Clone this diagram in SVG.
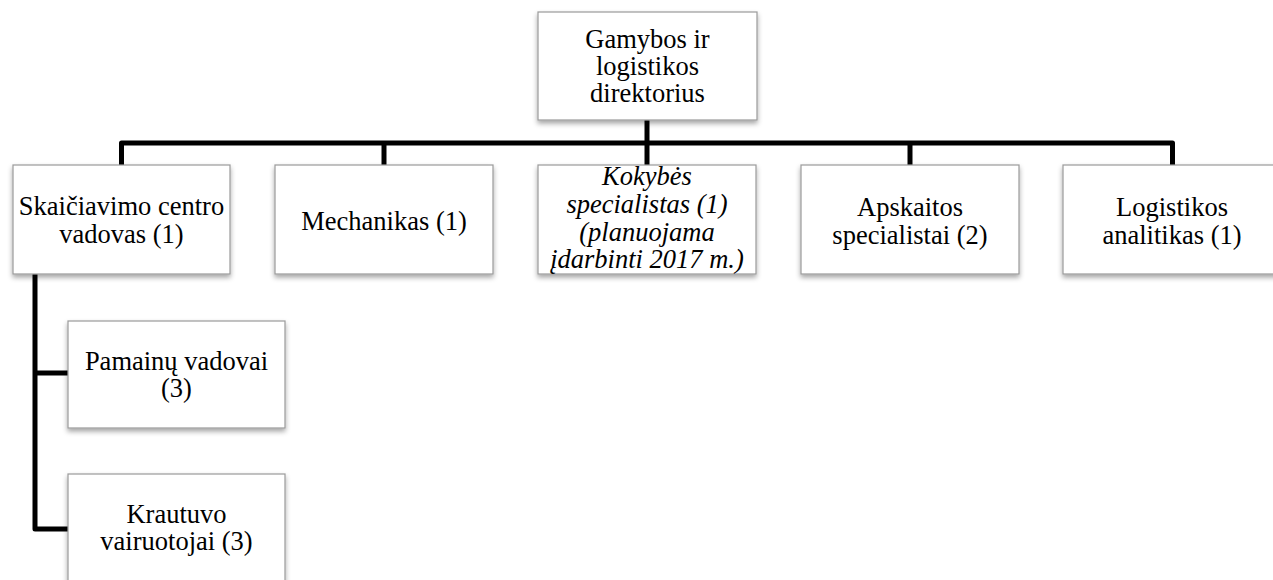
<svg xmlns="http://www.w3.org/2000/svg" width="1273" height="580" viewBox="0 0 1273 580">
<style>
.box{fill:#fff;stroke:#9a9a9a;stroke-width:1.2;filter:url(#sh)}
.t{font-family:"Liberation Serif","Times New Roman",serif;font-size:26.5px;fill:#000;text-anchor:middle}
.i{font-style:italic}
.c{fill:none;stroke:#000;stroke-width:5;stroke-linejoin:round;stroke-linecap:butt}
</style>
<defs>
<filter id="sh" x="-10%" y="-10%" width="130%" height="140%">
<feDropShadow dx="0" dy="3" stdDeviation="2.5" flood-color="#000" flood-opacity="0.35"/>
</filter>
</defs>
<rect width="1273" height="580" fill="#fff"/>
<g id="connectors">
<path class="c" d="M647 120 V143"/>
<path class="c" d="M121.5 165 V143 H1172.5 V165"/>
<path class="c" d="M384 143 V165"/>
<path class="c" d="M647 143 V165"/>
<path class="c" d="M910 143 V165"/>
<path class="c" d="M35 274 V529 H68"/>
<path class="c" d="M35 373 H68"/>
</g>
<g id="n-director">
<rect class="box" x="538" y="12" width="219" height="108"/>
<text class="t" x="647.5" y="48">Gamybos ir</text>
<text class="t" x="647.5" y="75">logistikos</text>
<text class="t" x="647.5" y="102">direktorius</text>
</g>
<g id="n-skaiciavimo">
<rect class="box" x="13" y="165" width="217" height="109"/>
<text class="t" x="121.5" y="215">Skaičiavimo centro</text>
<text class="t" x="121.5" y="243">vadovas (1)</text>
</g>
<g id="n-mechanikas">
<rect class="box" x="275" y="165" width="218" height="109"/>
<text class="t" x="384" y="230">Mechanikas (1)</text>
</g>
<g id="n-kokybes">
<rect class="box" x="538" y="165" width="218" height="109"/>
<text class="t i" x="647" y="185">Kokybės</text>
<text class="t i" x="647" y="213">specialistas (1)</text>
<text class="t i" x="647" y="241">(planuojama</text>
<text class="t i" x="647" y="268">įdarbinti 2017 m.)</text>
</g>
<g id="n-apskaitos">
<rect class="box" x="801" y="165" width="218" height="109"/>
<text class="t" x="910" y="216">Apskaitos</text>
<text class="t" x="910" y="244">specialistai (2)</text>
</g>
<g id="n-logistikos">
<rect class="box" x="1063" y="165" width="218" height="109"/>
<text class="t" x="1172" y="216">Logistikos</text>
<text class="t" x="1172" y="244">analitikas (1)</text>
</g>
<g id="n-pamainu">
<rect class="box" x="68" y="321" width="217" height="107"/>
<text class="t" x="176.5" y="370">Pamainų vadovai</text>
<text class="t" x="176.5" y="397">(3)</text>
</g>
<g id="n-krautuvo">
<rect class="box" x="68" y="474" width="217" height="110"/>
<text class="t" x="176.5" y="523">Krautuvo</text>
<text class="t" x="176.5" y="550">vairuotojai (3)</text>
</g>
</svg>
